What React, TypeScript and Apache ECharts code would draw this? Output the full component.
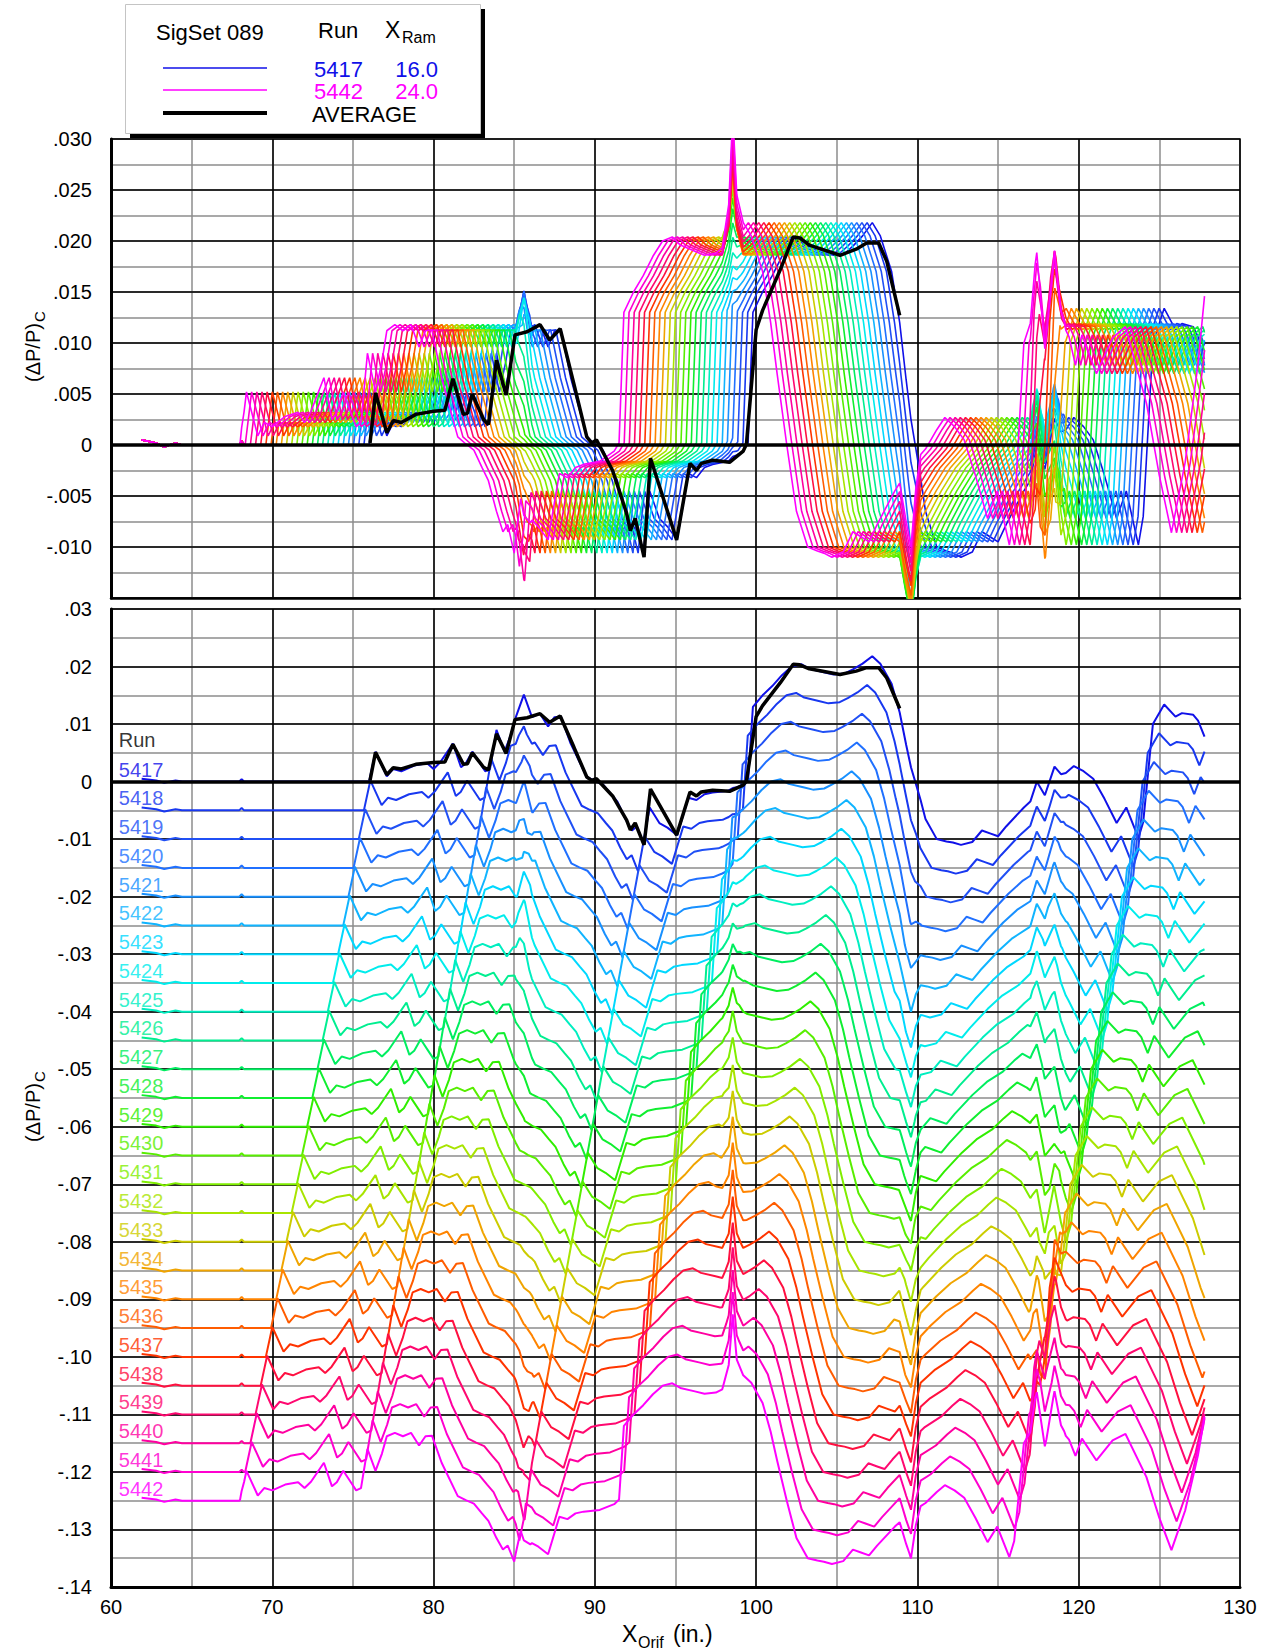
import React, { useEffect, useRef } from "react";
import * as echarts from "echarts";

// ---- runs in SigSet 089 ----
const RUNS = [
  5417, 5418, 5419, 5420, 5421, 5422, 5423, 5424, 5425, 5426, 5427, 5428, 5429,
  5430, 5431, 5432, 5433, 5434, 5435, 5436, 5437, 5438, 5439, 5440, 5441, 5442,
];
// ram position of each run (in.)
const X_RAM = [
  16.0, 16.32, 16.64, 16.96, 17.28, 17.6, 17.92, 18.24, 18.56, 18.88, 19.2, 19.52, 19.84,
  20.16, 20.48, 20.8, 21.12, 21.44, 21.76, 22.08, 22.4, 22.72, 23.04, 23.36, 23.68, 24.0,
];
const RUN_COLORS = [
  "#1010e8", "#1838f0", "#2050f5", "#2070ff", "#1890ff", "#10b4ff", "#00d8ff",
  "#00ecec", "#00eec0", "#00ee90", "#00ee60", "#10ee30", "#30ee00", "#58ee00",
  "#80ee00", "#a8e400", "#cccc00", "#f0a400", "#ff8400", "#ff5c00", "#ff3400",
  "#ff1040", "#ff0870", "#ff00a0", "#ff00d0", "#ff00ff",
];
const RUN_X_START = 61.9;
const RUN_X_END = 127.8;
const RUN_SPACING = 0.005; // vertical stagger of the lower panel

// pressure signature carried with the ram, positioned for X_Ram = 16.0
const PROFILE_X = [
  76.0, 76.4, 77.1, 77.5, 78.0, 78.8, 79.6, 80.0, 80.4, 81.2, 81.7, 82.0, 82.4, 82.8,
  83.2, 83.5, 83.9, 84.4, 84.8, 85.1, 85.6, 86.1, 86.6, 87.1, 87.5, 87.9, 88.5, 89.5,
  90.0, 90.5, 91.0, 91.4, 91.9, 92.3, 92.6, 93.0, 93.4, 94.0, 94.5, 95.1, 95.8, 96.3,
  96.8, 97.3, 98.3, 99.2, 99.5, 99.8, 100.4, 101.0, 101.6, 102.2, 102.8, 103.3, 104.2,
  104.8, 105.5, 106.0, 106.6, 107.2, 107.7, 108.4, 108.9, 109.3, 109.9, 110.5, 111.2,
  111.8, 112.2, 112.7, 113.4, 114.0, 114.5, 115.0, 115.5, 116.6, 117.5, 118.5, 119.2,
  119.7, 120.3, 120.9, 121.6, 122.35, 122.95, 123.7, 124.0, 124.6, 125.3, 126.0, 126.4,
  127.1, 127.4, 127.8, 128.2, 129.1, 130.1, 130.9, 132.2, 133.0, 133.75, 134.6, 135.4,
  135.8,
];
const PROFILE_V = [
  0, 0.0052, 0.0009, 0.0022, 0.0018, 0.0028, 0.0032, 0.0022, 0.0033, 0.0066, 0.0025,
  0.0032, 0.0052, 0.0035, 0.0018, 0.0022, 0.009, 0.0052, 0.0082, 0.0112, 0.0118, 0.0112,
  0.0118, 0.0096, 0.0112, 0.0113, 0.0066, 0.0008, 0.0001, -0.0005, -0.0022, -0.0035,
  -0.0065, -0.0085, -0.0078, -0.0106, -0.0045, -0.0072, -0.008, -0.0093, -0.0028,
  -0.0032, -0.0022, -0.0019, -0.0016, -0.0006, 0.0002, 0.013, 0.015, 0.0166, 0.0185,
  0.02, 0.0204, 0.0196, 0.019, 0.0186, 0.0188, 0.0195, 0.0205, 0.0218, 0.0205, 0.017,
  0.012, 0.007, 0.0, -0.0065, -0.01, -0.0104, -0.0106, -0.011, -0.0105, -0.0085, -0.009,
  -0.0095, -0.0078, -0.0045, -0.0022, -0.0004, 0.0015, 0.0027, 0.0018, 0.0005, -0.003,
  -0.0072, -0.0045, -0.0098, -0.007, 0.01, 0.0134, 0.0113, 0.0119, 0.0116, 0.0106,
  0.0078, 0.0108, 0.007, 0.0105, 0.0116, 0.0041, -0.003, -0.0086, -0.0017, 0.008, 0.0146,
];

// features fixed at the orifice stations
const WIGGLE_X = [61.9, 62.8, 63.3, 64.0, 64.4];
const WIGGLE_V = [0.0005, 0.0002, -0.0002, 0.0002, 0];
const BLIP_X = [67.95, 68.1, 68.25];
const BLIP_W = [0, 1, 0];
const BLIP_AMP = 0.0004;
const PEAK_856_X = [85.1, 85.6, 86.1];
const PEAK_856_W = [0, 1, 0];
const PEAK_856_GAIN = 0.28;
const SPIKE_985_X = [97.9, 98.3, 98.55, 98.8, 99.2];
const SPIKE_985_W = [0, 0.3, 1, 0.3, 0];
const SPIKE_985_AMP = [
  0.0002, 0.0003, 0.0004, 0.0005, 0.0007, 0.0009, 0.0012, 0.0015, 0.0019, 0.0024,
  0.0029, 0.0035, 0.0041, 0.0048, 0.0055, 0.0062, 0.0069, 0.0076, 0.0083, 0.0088,
  0.0092, 0.0096, 0.0101, 0.0107, 0.0114, 0.012,
];
const DIP_1095_X = [108.9, 109.3, 109.6, 109.9, 110.2];
const DIP_1095_W = [0, 0.6, 1, 0.35, 0];
const DIP_1095_AMP = [
  0.001, 0.0015, 0.002, 0.003, 0.004, 0.005, 0.006, 0.006, 0.006, 0.006, 0.006, 0.006,
  0.006, 0.006, 0.0065, 0.0065, 0.007, 0.007, 0.007, 0.0075, 0.0075, 0.008, 0.008,
  0.008, 0.008, 0.008,
];
const SPIKE_118_X = [117.0, 117.4, 117.9, 118.5, 118.9, 119.2];
const SPIKE_118_W = [0, 0.8, -0.3, 1, 0.2, 0];
const SPIKE_118_AMP = [
  0.003, 0.0031, 0.0032, 0.0033, 0.0034, 0.0035, 0.0036, 0.0037, 0.0038, 0.0039, 0.004,
  0.0041, 0.0042, 0.0044, 0.0046, 0.0048, 0.005, 0.0052, 0.0054, 0.0056, 0.0058, 0.006,
  0.0063, 0.0066, 0.0069, 0.0072,
];

// average of the set
const AVG_X = [
  76.06, 76.4, 77.1, 77.5, 78.0, 78.9, 80.0, 80.7, 81.2, 81.85, 82.1, 82.4, 83.1, 83.4,
  83.9, 84.5, 85.05, 85.8, 86.6, 87.2, 87.85, 88.7, 89.5, 89.8, 90.1, 91.1, 91.97, 92.2,
  92.5, 93.05, 93.45, 95.07, 95.9, 96.3, 96.6, 97.3, 98.35, 99.2, 99.4, 100.0, 100.4,
  101.5, 102.3, 102.7, 103.3, 105.2, 106.2, 106.85, 107.6, 108.1, 108.9,
];
const AVG_V = [
  0.0002, 0.0051, 0.0012, 0.0024, 0.0022, 0.003, 0.0033, 0.0034, 0.0065, 0.003, 0.0031,
  0.005, 0.0025, 0.002, 0.0083, 0.0049, 0.0108, 0.0111, 0.0118, 0.0103, 0.0114, 0.006,
  0.0008, 0.0002, 0.0005, -0.0025, -0.0067, -0.0084, -0.0072, -0.011, -0.0013, -0.0093,
  -0.0018, -0.0025, -0.0018, -0.0015, -0.0017, -0.0006, 0.0001, 0.0113, 0.0132, 0.0172,
  0.0204, 0.0203, 0.0196, 0.0186, 0.0192, 0.0198, 0.0198, 0.018, 0.0127,
];

const TOP_Y_MIN = -0.015;
const TOP_Y_MAX = 0.03;
const BOT_Y_MIN = -0.14;
const BOT_Y_MAX = 0.03;
const X_MIN = 60;
const X_MAX = 130;

const FONT = '"Liberation Sans", Arial, Helvetica, sans-serif';

function lerp(xs: number[], vs: number[], x: number): number {
  const n = xs.length;
  if (x <= xs[0]) return vs[0];
  if (x >= xs[n - 1]) return vs[n - 1];
  let k = 1;
  while (xs[k] < x) k++;
  const t = (x - xs[k - 1]) / (xs[k] - xs[k - 1]);
  return vs[k - 1] + t * (vs[k] - vs[k - 1]);
}

function bump(xs: number[], ws: number[], x: number): number {
  if (x < xs[0] || x > xs[xs.length - 1]) return 0;
  return lerp(xs, ws, x);
}

function runValue(i: number, x: number): number {
  const shift = X_RAM[i] - X_RAM[0];
  const carried = lerp(PROFILE_X, PROFILE_V, x + shift);
  return (
    carried * (1 + PEAK_856_GAIN * bump(PEAK_856_X, PEAK_856_W, x)) +
    bump(WIGGLE_X, WIGGLE_V, x) +
    BLIP_AMP * bump(BLIP_X, BLIP_W, x) +
    SPIKE_985_AMP[i] * bump(SPIKE_985_X, SPIKE_985_W, x) -
    DIP_1095_AMP[i] * bump(DIP_1095_X, DIP_1095_W, x) +
    SPIKE_118_AMP[i] * bump(SPIKE_118_X, SPIKE_118_W, x)
  );
}

function runPoints(i: number, offset: number): number[][] {
  const shift = X_RAM[i] - X_RAM[0];
  const set = new Set<number>([RUN_X_START, RUN_X_END]);
  const addKnot = (x: number) => {
    const r = Math.round(x * 1000) / 1000;
    if (r > RUN_X_START && r < RUN_X_END) set.add(r);
  };
  PROFILE_X.forEach((p) => addKnot(p - shift));
  [WIGGLE_X, BLIP_X, PEAK_856_X, SPIKE_985_X, DIP_1095_X, SPIKE_118_X].forEach((arr) =>
    arr.forEach(addKnot)
  );
  return Array.from(set)
    .sort((a, b) => a - b)
    .map((x) => [x, runValue(i, x) + offset]);
}

function fmtTop(v: number): string {
  if (Math.abs(v) < 1e-9) return "0";
  if (v < TOP_Y_MIN + 1e-6) return "";
  return (v < 0 ? "-" : "") + Math.abs(v).toFixed(3).replace(/^0/, "");
}
function fmtBottom(v: number): string {
  if (Math.abs(v) < 1e-9) return "0";
  return (v < 0 ? "-" : "") + Math.abs(v).toFixed(2).replace(/^0/, "");
}

function valueAxis(grid: number, min: number, max: number, interval: number, major: boolean, extra: any = {}) {
  return {
    type: "value",
    gridIndex: grid,
    min,
    max,
    interval,
    z: major ? 1 : 0,
    axisLine: { show: false },
    axisTick: { show: false },
    axisLabel: { show: false },
    splitLine: {
      show: true,
      lineStyle: { color: major ? "#000000" : "#8c8c8c", width: 1.5 },
    },
    ...extra,
  };
}

export default function App() {
  const ref = useRef<HTMLDivElement>(null);

  useEffect(() => {
    if (!ref.current) return;
    const chart = echarts.init(ref.current, undefined, { renderer: "svg" });

    const series: any[] = [];
    RUNS.forEach((_, i) => {
      series.push({
        type: "line",
        xAxisIndex: 0,
        yAxisIndex: 0,
        data: runPoints(i, 0),
        symbol: "none",
        showSymbol: false,
        silent: true,
        z: 2,
        lineStyle: { color: RUN_COLORS[i], width: 1.6 },
      });
    });
    const zeroLine = {
      silent: true,
      symbol: ["none", "none"],
      label: { show: false },
      lineStyle: { color: "#000", width: 3.5, type: "solid" },
      data: [{ yAxis: 0 }],
    };
    const avgData = AVG_X.map((x, k) => [x, AVG_V[k]]);
    series.push({
      type: "line",
      xAxisIndex: 0,
      yAxisIndex: 0,
      data: avgData,
      symbol: "none",
      silent: true,
      z: 3,
      lineStyle: { color: "#000", width: 3.5 },
      markLine: zeroLine,
    });
    RUNS.forEach((_, i) => {
      series.push({
        type: "line",
        xAxisIndex: 2,
        yAxisIndex: 2,
        data: runPoints(i, -RUN_SPACING * i),
        symbol: "none",
        showSymbol: false,
        silent: true,
        z: 2,
        lineStyle: { color: RUN_COLORS[i], width: 2 },
      });
    });
    series.push({
      type: "line",
      xAxisIndex: 2,
      yAxisIndex: 2,
      data: avgData,
      symbol: "none",
      silent: true,
      z: 3,
      lineStyle: { color: "#000", width: 3.5 },
      markLine: zeroLine,
    });
    // run labels at the left end of each staggered trace
    series.push({
      type: "scatter",
      xAxisIndex: 2,
      yAxisIndex: 2,
      silent: true,
      z: 5,
      symbolSize: 1,
      itemStyle: { color: "rgba(0,0,0,0)" },
      label: {
        show: true,
        position: "right",
        distance: 0,
        formatter: "{b}",
        fontSize: 20,
        fontFamily: FONT,
      },
      data: [
        { name: "Run", value: [60.45, 0.0072], label: { color: "#000" } },
        ...RUNS.map((r, i) => ({
          name: String(r),
          value: [60.45, -RUN_SPACING * i + 0.0021],
          label: { color: RUN_COLORS[i] },
        })),
      ],
    });

    const txt = (text: string, x: number, y: number, size: number, fill = "#000", align = "left") => ({
      type: "text",
      x,
      y,
      silent: true,
      style: {
        text,
        fill,
        font: `${size}px ${FONT}`,
        textAlign: align,
        textVerticalAlign: "middle",
      },
    });

    const yTitle = (cy: number) => ({
      type: "group",
      x: 33,
      y: cy + 37,
      rotation: Math.PI / 2,
      silent: true,
      children: [
        txt("(ΔP/P)", 0, 0, 20),
        txt("C", 60, 6, 15),
      ],
    });

    chart.setOption({
      animation: false,
      textStyle: { fontFamily: FONT },
      grid: [
        { left: 111, top: 139, width: 1129, height: 459, show: true, borderColor: "#000", borderWidth: 1.5, backgroundColor: "transparent", outerBoundsMode: "none" },
        { left: 111, top: 609, width: 1129, height: 978, show: true, borderColor: "#000", borderWidth: 1.5, backgroundColor: "transparent", outerBoundsMode: "none" },
      ],
      xAxis: [
        valueAxis(0, X_MIN, X_MAX, 10, true, {
          axisLine: { show: true, onZero: false, lineStyle: { color: "#000", width: 2.5 } },
        }),
        valueAxis(0, X_MIN, X_MAX, 5, false),
        valueAxis(1, X_MIN, X_MAX, 10, true, {
          axisLine: { show: true, onZero: false, lineStyle: { color: "#000", width: 3 } },
          axisLabel: { show: true, fontSize: 20, color: "#000", margin: 10, fontFamily: FONT },
        }),
        valueAxis(1, X_MIN, X_MAX, 5, false),
      ],
      yAxis: [
        valueAxis(0, TOP_Y_MIN, TOP_Y_MAX, 0.005, true, {
          axisLine: { show: true, onZero: false, lineStyle: { color: "#000", width: 3 } },
          axisLabel: { show: true, fontSize: 20, color: "#000", margin: 19, fontFamily: FONT, formatter: fmtTop },
        }),
        valueAxis(0, TOP_Y_MIN, TOP_Y_MAX, 0.0025, false),
        valueAxis(1, BOT_Y_MIN, BOT_Y_MAX, 0.01, true, {
          axisLine: { show: true, onZero: false, lineStyle: { color: "#000", width: 3 } },
          axisLabel: { show: true, fontSize: 20, color: "#000", margin: 19, fontFamily: FONT, formatter: fmtBottom },
        }),
        valueAxis(1, BOT_Y_MIN, BOT_Y_MAX, 0.005, false),
      ],
      series,
      graphic: [
        // legend box with drop shadow
        { type: "rect", silent: true, shape: { x: 130, y: 9, width: 355, height: 129 }, style: { fill: "#000" } },
        { type: "rect", silent: true, shape: { x: 125.5, y: 4.5, width: 355, height: 129 }, style: { fill: "#fff", stroke: "#c4c4c4", lineWidth: 1 } },
        txt("SigSet 089", 156, 32, 22),
        txt("Run", 318, 30, 22),
        txt("X", 385, 30, 23),
        txt("Ram", 402, 37, 16),
        { type: "line", silent: true, shape: { x1: 163, y1: 68, x2: 267, y2: 68 }, style: { stroke: "#1010e8", lineWidth: 1.5 } },
        txt("5417", 314, 69, 22, "#1010e8"),
        txt("16.0", 438, 69, 22, "#1010e8", "right"),
        { type: "line", silent: true, shape: { x1: 163, y1: 90, x2: 267, y2: 90 }, style: { stroke: "#ff00ff", lineWidth: 1.5 } },
        txt("5442", 314, 91, 22, "#ff00ff"),
        txt("24.0", 438, 91, 22, "#ff00ff", "right"),
        { type: "line", silent: true, shape: { x1: 163, y1: 113, x2: 267, y2: 113 }, style: { stroke: "#000", lineWidth: 4 } },
        txt("AVERAGE", 312, 114, 22),
        // axis titles
        yTitle(345),
        yTitle(1105),
        txt("X", 622, 1634, 23),
        txt("Orif", 638, 1642, 16),
        txt("(in.)", 673, 1634, 23),
      ],
    });

    return () => chart.dispose();
  }, []);

  return (
    <div
      ref={ref}
      style={{ position: "absolute", left: 0, top: 0, width: 1272, height: 1650, background: "#fff" }}
    />
  );
}
